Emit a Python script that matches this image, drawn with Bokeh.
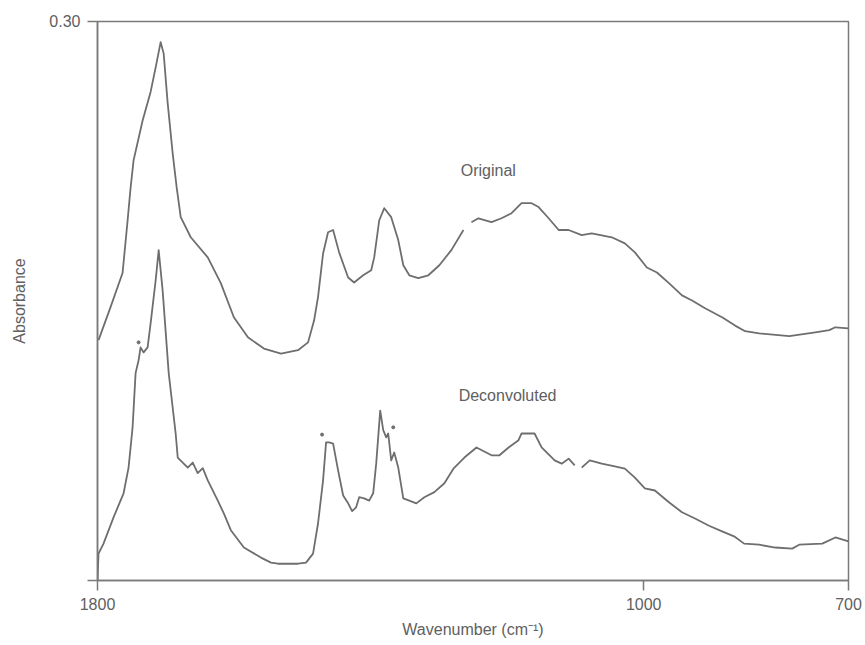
from bokeh.plotting import figure
from bokeh.models import Range1d, FixedTicker, Label, ColumnDataSource
from bokeh.core.properties import value
from bokeh.embed import file_html
from bokeh.resources import INLINE

nan = float("nan")

# Original spectrum (wavenumber cm-1, absorbance)
orig_wn = [1798.5, 1780.9, 1763.3, 1755.9, 1751.5, 1747.1, 1733.9, 1722.2, 1714.8, 1707.5,
           1703.1, 1697.2, 1689.9, 1684.0, 1678.1, 1663.4, 1638.5, 1619.4, 1600.3, 1579.7,
           1556.2, 1531.3, 1506.3, 1491.6, 1482.8, 1477.0, 1469.6, 1462.3, 1454.9, 1446.1,
           1432.9, 1424.1, 1410.9, 1399.1, 1394.7, 1387.4, 1380.0, 1369.8, 1359.5, 1352.1,
           1343.3, 1330.1, 1315.4, 1299.3, 1281.7, 1264.0, 1259.0, 1252.3, 1242.0, 1222.9,
           1208.2, 1193.5, 1178.9, 1164.2, 1153.9, 1139.2, 1124.5, 1109.9, 1090.8, 1076.1,
           1046.7, 1027.6, 1012.9, 995.3, 980.6, 963.0, 943.9, 929.2, 910.1, 885.2,
           866.1, 851.4, 830.9, 786.8, 748.6, 728.1, 719.3, 700.0]
orig_ab = [0.29430, 0.29489, 0.29550, 0.29644, 0.29703, 0.29752, 0.29823, 0.29874, 0.29918, 0.29963,
           0.29943, 0.29854, 0.29764, 0.29703, 0.29650, 0.29614, 0.29578, 0.29532, 0.29471, 0.29435,
           0.29415, 0.29406, 0.29412, 0.29426, 0.29465, 0.29507, 0.29585, 0.29623, 0.29627, 0.29587,
           0.29542, 0.29533, 0.29546, 0.29555, 0.29578, 0.29644, 0.29666, 0.29650, 0.29609, 0.29564,
           0.29546, 0.29541, 0.29546, 0.29564, 0.29591, 0.29627, nan, 0.29641, 0.29648, 0.29641,
           0.29648, 0.29657, 0.29675, 0.29675, 0.29668, 0.29648, 0.29627, 0.29627, 0.29618, 0.29621,
           0.29614, 0.29603, 0.29587, 0.29560, 0.29551, 0.29532, 0.29510, 0.29501, 0.29487, 0.29471,
           0.29456, 0.29446, 0.29442, 0.29437, 0.29444, 0.29448, 0.29453, 0.29451]

# Deconvoluted spectrum
dec_wn = [1800.0, 1798.5, 1791.2, 1776.5, 1761.8, 1754.5, 1748.6, 1744.2, 1739.8, 1736.9,
          1732.5, 1726.6, 1722.2, 1714.8, 1710.4, 1704.6, 1695.7, 1685.5, 1682.5, 1667.8,
          1660.5, 1653.2, 1645.8, 1638.5, 1623.8, 1615.0, 1604.7, 1585.6, 1560.6, 1545.9,
          1535.7, 1516.6, 1506.3, 1494.6, 1484.3, 1477.0, 1469.6, 1465.2, 1460.8, 1454.9,
          1447.6, 1440.2, 1432.9, 1427.0, 1421.2, 1416.7, 1409.4, 1402.1, 1396.2, 1391.8,
          1385.9, 1381.5, 1377.1, 1374.2, 1369.8, 1365.4, 1359.5, 1352.1, 1343.3, 1333.0,
          1321.3, 1306.6, 1291.9, 1278.7, 1262.6, 1244.9, 1222.9, 1211.2, 1197.9, 1183.3,
          1178.9, 1159.8, 1149.5, 1130.4, 1120.1, 1109.9, 1101.0, 1096.0, 1090.8, 1079.0,
          1061.4, 1042.3, 1027.6, 1012.9, 998.3, 983.6, 963.0, 943.9, 924.8, 904.3,
          885.2, 867.6, 852.9, 830.9, 807.4, 782.5, 772.2, 738.4, 719.3, 700.0]
dec_ab = [0.29000, 0.29048, 0.29066, 0.29113, 0.29156, 0.29202, 0.29274, 0.29371, 0.29394, 0.29417,
          0.29408, 0.29417, 0.29460, 0.29537, 0.29591, 0.29519, 0.29371, 0.29263, 0.29220, 0.29202,
          0.29211, 0.29192, 0.29201, 0.29179, 0.29143, 0.29120, 0.29090, 0.29059, 0.29041, 0.29032,
          0.29030, 0.29030, 0.29030, 0.29032, 0.29048, 0.29102, 0.29179, 0.29247, 0.29247, 0.29245,
          0.29197, 0.29152, 0.29138, 0.29124, 0.29131, 0.29149, 0.29147, 0.29143, 0.29156, 0.29209,
          0.29304, 0.29269, 0.29256, 0.29263, 0.29215, 0.29229, 0.29202, 0.29147, 0.29143, 0.29138,
          0.29149, 0.29158, 0.29174, 0.29200, 0.29220, 0.29238, 0.29224, 0.29224, 0.29238, 0.29251,
          0.29263, 0.29263, 0.29238, 0.29215, 0.29209, 0.29218, 0.29206, nan, 0.29202, 0.29215,
          0.29209, 0.29204, 0.29200, 0.29184, 0.29165, 0.29161, 0.29140, 0.29122, 0.29111, 0.29098,
          0.29088, 0.29079, 0.29066, 0.29064, 0.29059, 0.29057, 0.29064, 0.29066, 0.29077, 0.29070]

# Asterisk markers on deconvoluted bands
mark_wn = [1739.8, 1471.1, 1366.8]
mark_ab = [0.29426, 0.29261, 0.29274]

# Curve labels
label_text = ["Original", "Deconvoluted"]
label_wn = [1268.0, 1271.0]
label_ab = [0.29734, 0.29331]

x_ticks = [1800, 1000, 700]
y_ticks = [0.29, 0.30]

GREY = "#6e6e6e"
TXT = "#606060"
FONT = "Liberation Sans"

p = figure(width=862, height=644, output_backend="svg", toolbar_location=None,
           x_range=Range1d(1800, 700), y_range=Range1d(0.29, 0.30),
           min_border_left=97, min_border_right=14, min_border_top=21, min_border_bottom=64)

p.xgrid.visible = False
p.ygrid.visible = False
p.outline_line_color = "#7a7a7a"
p.outline_line_width = 1.5
p.background_fill_color = "white"
p.border_fill_color = "white"

for ax in (p.xaxis[0], p.yaxis[0]):
    ax.axis_line_color = "#7a7a7a"
    ax.axis_line_width = 1.5
    ax.major_tick_line_color = "#7a7a7a"
    ax.major_tick_line_width = 1.5
    ax.major_tick_out = 10
    ax.major_tick_in = 0
    ax.minor_tick_line_color = None
    ax.major_label_text_color = TXT
    ax.major_label_text_font = FONT
    ax.major_label_text_font_size = "16px"
    ax.major_label_standoff = 7
    ax.axis_label_text_color = TXT
    ax.axis_label_text_font = FONT
    ax.axis_label_text_font_size = "16px"
    ax.axis_label_text_font_style = "normal"

p.xaxis[0].ticker = FixedTicker(ticks=x_ticks)
p.yaxis[0].ticker = FixedTicker(ticks=y_ticks)
p.yaxis[0].major_label_overrides = {0.29: " ", 0.3: "0.30"}
p.xaxis[0].axis_label = "Wavenumber (cm\u207b\u00b9)"
p.yaxis[0].axis_label = "Absorbance"
p.xaxis[0].axis_label_standoff = 8
p.yaxis[0].axis_label_standoff = 18

p.line(orig_wn, orig_ab, line_color=GREY, line_width=1.8, line_join="round")
p.line(dec_wn, dec_ab, line_color=GREY, line_width=1.8, line_join="round")
p.scatter(mark_wn, mark_ab, size=3, color=GREY)

src = ColumnDataSource(dict(x=label_wn, y=label_ab, t=label_text))
p.text(x="x", y="y", text="t", source=src, text_font=value(FONT), text_font_size="16px",
       text_color=TXT, text_align="left", text_baseline="middle")

p.add_layout(Label(x=1800, y=0.29, x_offset=-17, text="0.29", text_align="right",
                   text_baseline="middle", text_color="black", text_font=FONT,
                   text_font_size="16px"))

open("out.html", "w").write(file_html(p, INLINE))
